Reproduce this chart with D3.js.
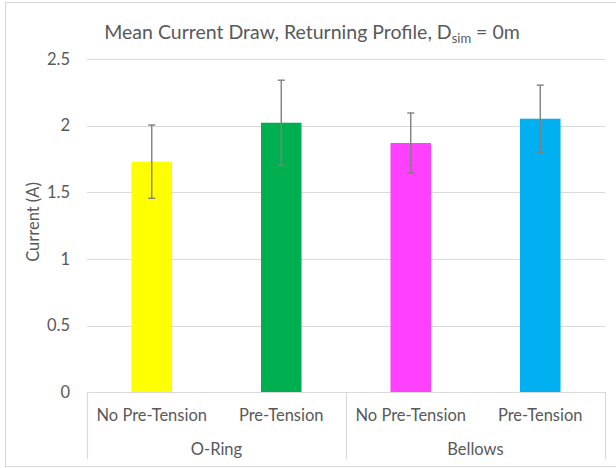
<!DOCTYPE html>
<html><head><meta charset="utf-8">
<script src="https://cdn.jsdelivr.net/npm/d3@7"></script>
<style>
html,body{margin:0;padding:0;background:#fff;}
svg{display:block;font-family:Lato, "Open Sans", sans-serif;}
</style></head>
<body><svg id="c" width="616" height="468"></svg>
<script>
const groups = ["O-Ring", "Bellows"];
const subLabels = ["No Pre-Tension", "Pre-Tension", "No Pre-Tension", "Pre-Tension"];
const groupOf = [0, 0, 1, 1];
const values = [1.73, 2.022, 1.87, 2.052];
const errors = [0.275, 0.319, 0.225, 0.252];
const colors = ["#FFFF00", "#00B050", "#FF40FF", "#00B0F0"];
const yTicks = [0, 0.5, 1, 1.5, 2, 2.5];

const svg = d3.select("#c");
const textCol = "#595959", gridCol = "#d9d9d9";
const fs = 16.5;
svg.append("rect").attr("x",0).attr("y",0).attr("width",616).attr("height",468).attr("fill","#fff");
svg.append("rect").attr("x",5.5).attr("y",2.5).attr("width",640).attr("height",464)
  .attr("fill","none").attr("stroke",gridCol).attr("stroke-width",1.2);

const left = 87, right = 605;
const keys = d3.range(values.length);
const x = d3.scaleBand().domain(keys).range([left, right]).paddingInner(0.687).paddingOuter(0.3435);
const y = d3.scaleLinear().domain([0, 2.5]).range([392.3, 59]);

// gridlines
svg.append("g").selectAll("line").data(yTicks).join("line")
  .attr("x1", left).attr("x2", right)
  .attr("y1", d => Math.round(y(d)) + 0.5).attr("y2", d => Math.round(y(d)) + 0.5)
  .attr("stroke", gridCol).attr("stroke-width", 1.2);

// y axis labels
const yAxis = d3.axisLeft(y).tickValues(yTicks).tickSize(0).tickPadding(0).tickFormat(d => String(d));
const ga = svg.append("g").attr("transform", `translate(70,0)`).call(yAxis);
ga.select(".domain").remove();
ga.selectAll("text").attr("fill", textCol).attr("font-size", fs).attr("font-family","Lato, sans-serif");

// bars
svg.append("g").selectAll("rect").data(keys).join("rect")
  .attr("x", d => x(d)).attr("width", x.bandwidth())
  .attr("y", d => y(values[d])).attr("height", d => y(0) - y(values[d]))
  .attr("fill", d => colors[d]);

// error bars
const eb = svg.append("g").attr("stroke", "#7f7f7f").attr("stroke-width", 1.4);
keys.forEach(d => {
  const cx = x(d) + x.bandwidth() / 2;
  const top = y(values[d] + errors[d]), bot = y(values[d] - errors[d]);
  eb.append("line").attr("x1", cx).attr("x2", cx).attr("y1", top).attr("y2", bot);
  eb.append("line").attr("x1", cx - 3.5).attr("x2", cx + 3.5).attr("y1", top).attr("y2", top);
  eb.append("line").attr("x1", cx - 3.5).attr("x2", cx + 3.5).attr("y1", bot).attr("y2", bot);
});

// category axis
const ax = svg.append("g").attr("stroke", gridCol).attr("stroke-width", 1.2);
ax.append("line").attr("x1", left).attr("x2", right).attr("y1", 392.5).attr("y2", 392.5);
const groupEdges = [left, x(2) - x.step() * x.paddingInner() / 2, right];
groupEdges.forEach(gx => {
  ax.append("line").attr("x1", Math.round(gx) + 0.5).attr("x2", Math.round(gx) + 0.5).attr("y1", 392).attr("y2", 459);
});

svg.append("g").selectAll("text").data(keys).join("text")
  .attr("x", d => x(d) + x.bandwidth() / 2).attr("y", 421)
  .attr("text-anchor", "middle").attr("font-size", fs).attr("fill", textCol)
  .text(d => subLabels[d]);

svg.append("g").selectAll("text").data(groups).join("text")
  .attr("x", (g, i) => {
    const idx = keys.filter(k => groupOf[k] === i);
    return (x(idx[0]) + x(idx[idx.length - 1]) + x.bandwidth()) / 2;
  })
  .attr("y", 455)
  .attr("text-anchor", "middle").attr("font-size", fs).attr("fill", textCol)
  .text(g => g);

// y axis title
svg.append("text").attr("transform", "translate(39,222) rotate(-90)")
  .attr("text-anchor", "middle").attr("font-size", fs).attr("fill", textCol)
  .text("Current (A)");

// title
const t = svg.append("text").attr("x", 312).attr("y", 39).attr("text-anchor", "middle")
  .attr("font-size", 19.5).attr("fill", textCol);
t.append("tspan").text("Mean Current Draw, Returning Profile, D");
t.append("tspan").attr("font-size", 13).attr("dy", 4).text("sim");
t.append("tspan").attr("dy", -4).text(" = 0m");
</script></body></html>
